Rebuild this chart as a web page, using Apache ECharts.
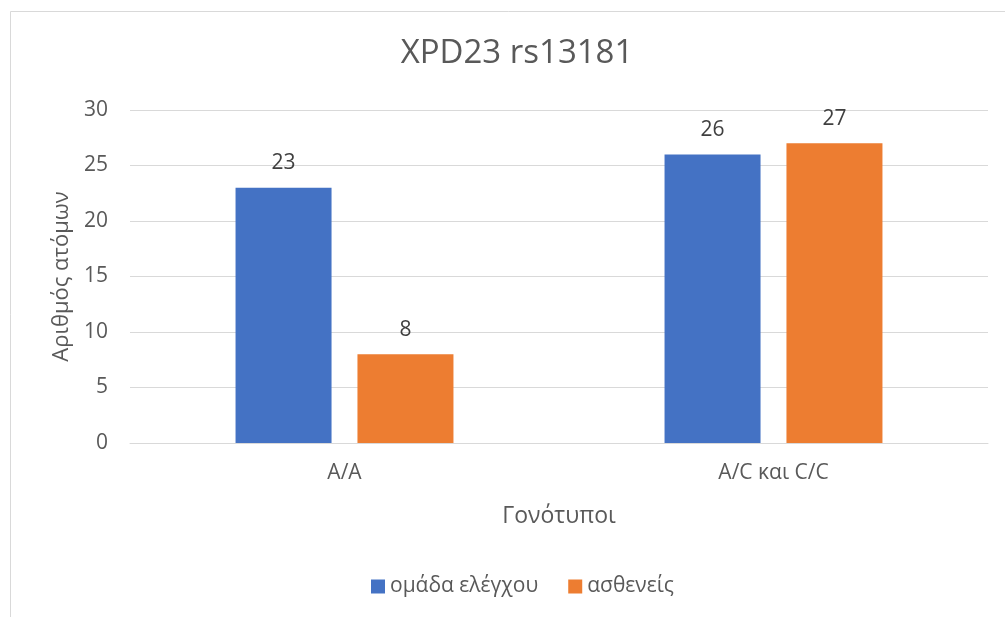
<!DOCTYPE html>
<html>
<head>
<meta charset="utf-8">
<script src="https://cdn.jsdelivr.net/npm/echarts@6/dist/echarts.min.js"></script>
<style>
html,body{margin:0;padding:0;background:#fff;}
#c{width:1005px;height:617px;}
</style>
</head>
<body>
<div id="c"></div>
<script>
const categories = ['A/A', 'A/C και C/C'];
const controlValues = [23, 26];
const patientValues = [8, 27];
const seriesNames = ['ομάδα ελέγχου', 'ασθενείς'];
const yTicks = [0, 5, 10, 15, 20, 25, 30];

const FONT = '"Open Sans", "Noto Sans", sans-serif';
const chart = echarts.init(document.getElementById('c'), null, {renderer: 'canvas'});
chart.setOption({
  backgroundColor: '#fff',
  animation: false,
  textStyle: {fontFamily: FONT},
  graphic: [{
    type: 'rect',
    shape: {x: 10.5, y: 11.5, width: 1010, height: 620},
    style: {fill: 'none', stroke: '#d9d9d9', lineWidth: 1},
    silent: true
  }],
  title: {
    text: 'XPD23 rs13181',
    left: 512, top: 32, textAlign: 'center',
    textStyle: {fontFamily: FONT, fontSize: 33, fontWeight: 'normal', color: '#595959'}
  },
  legend: {
    data: seriesNames,
    left: 366, top: 571,
    icon: 'rect', itemWidth: 14, itemHeight: 14, itemGap: 30,
    textStyle: {fontFamily: FONT, fontSize: 21, color: '#595959'}
  },
  grid: {left: 130, right: 17, top: 110, bottom: 174, containLabel: false},
  xAxis: {
    type: 'category',
    data: categories,
    name: 'Γονότυποι',
    nameLocation: 'middle',
    nameGap: 62,
    nameTextStyle: {fontFamily: FONT, fontSize: 23, color: '#595959'},
    axisLine: {show: true, lineStyle: {color: '#d9d9d9'}},
    axisTick: {show: false},
    axisLabel: {fontFamily: FONT, fontSize: 21, color: '#595959', margin: 20}
  },
  yAxis: {
    type: 'value',
    min: yTicks[0], max: yTicks[yTicks.length - 1], interval: 5,
    name: 'Αριθμός ατόμων',
    nameLocation: 'middle',
    nameGap: 56,
    nameTextStyle: {fontFamily: FONT, fontSize: 22, color: '#595959'},
    axisLine: {show: false},
    axisTick: {show: false},
    axisLabel: {fontFamily: FONT, fontSize: 21, color: '#595959', margin: 22},
    splitLine: {lineStyle: {color: '#d9d9d9', width: 1}}
  },
  series: [
    {
      name: seriesNames[0], type: 'bar', data: controlValues,
      barWidth: 96, barGap: '27%',
      itemStyle: {color: '#4472c4'},
      label: {show: true, position: 'top', distance: 14, fontFamily: FONT, fontSize: 21, color: '#404040'}
    },
    {
      name: seriesNames[1], type: 'bar', data: patientValues,
      barWidth: 96, barGap: '27%',
      itemStyle: {color: '#ed7d31'},
      label: {show: true, position: 'top', distance: 14, fontFamily: FONT, fontSize: 21, color: '#404040'}
    }
  ]
});
</script>
</body>
</html>
